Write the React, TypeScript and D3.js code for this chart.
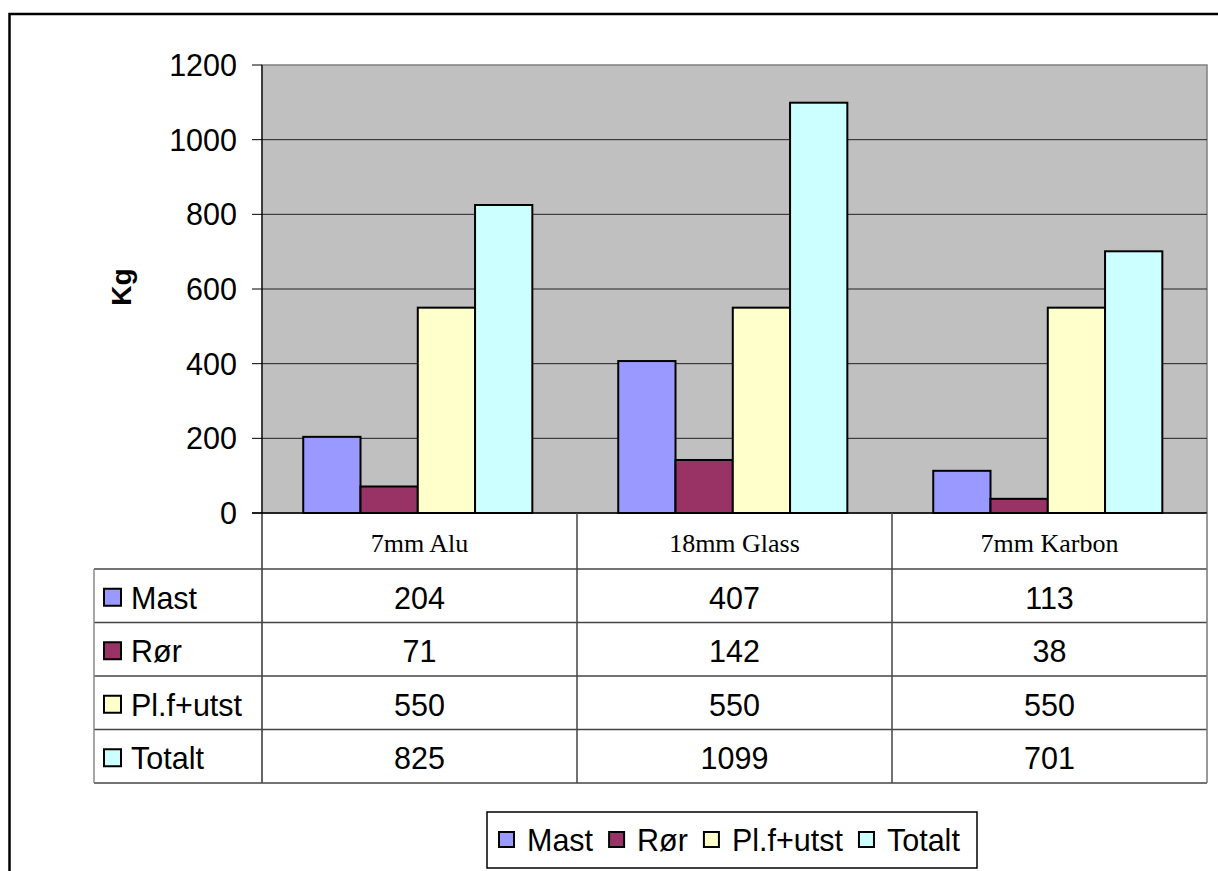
import React, { useEffect, useRef } from "react";
import * as d3 from "d3";

const categories = ["7mm Alu", "18mm Glass", "7mm Karbon"];
const seriesNames = ["Mast", "Rør", "Pl.f+utst", "Totalt"];
const mastValues = [204, 407, 113];
const rorValues = [71, 142, 38];
const plValues = [550, 550, 550];
const totaltValues = [825, 1099, 701];
const seriesColors = ["#9999FF", "#993366", "#FFFFCC", "#CCFFFF"];
const yTicks = [0, 200, 400, 600, 800, 1000, 1200];

const W = 1218;
const H = 871;

export default function App() {
  const ref = useRef<SVGSVGElement>(null);

  useEffect(() => {
    const svg = d3.select(ref.current);
    svg.selectAll("*").remove();
    const series = [mastValues, rorValues, plValues, totaltValues];
    const FONT = "Arial, 'Liberation Sans', sans-serif";
    const FS = 30.5;

    const left = 262, right = 1207, top = 65, bottom = 513;
    const y = d3.scaleLinear().domain([0, 1200]).range([bottom, top]);
    const x0 = d3.scaleBand<string>().domain(categories).range([left, right]).paddingInner(0).paddingOuter(0);
    // Excel gap 150%: total = 4 bars + 1.5 bars
    const bw = x0.bandwidth() / 5.5;
    const groupOffset = bw * 0.72;

    // outer border
    svg.append("rect").attr("x", 9.5).attr("y", 14).attr("width", W + 20).attr("height", H + 20)
      .attr("fill", "white").attr("stroke", "black").attr("stroke-width", 2.5);

    // plot area
    svg.append("rect").attr("x", left).attr("y", top).attr("width", right - left).attr("height", bottom - top)
      .attr("fill", "#C0C0C0").attr("stroke", "#808080").attr("stroke-width", 1.5);

    // gridlines
    svg.append("g").selectAll("line").data(yTicks.filter(t => t > 0 && t < 1200)).join("line")
      .attr("x1", left).attr("x2", right).attr("y1", d => y(d)).attr("y2", d => y(d))
      .attr("stroke", "#222").attr("stroke-width", 1);

    // bars
    categories.forEach((c, ci) => {
      seriesNames.forEach((s, si) => {
        const v = series[si][ci];
        const bx = (x0(c) as number) + groupOffset + si * bw;
        svg.append("rect").attr("x", bx).attr("y", y(v)).attr("width", bw).attr("height", y(0) - y(v))
          .attr("fill", seriesColors[si]).attr("stroke", "black").attr("stroke-width", 2);
      });
    });

    // y axis
    svg.append("line").attr("x1", left).attr("x2", left).attr("y1", top).attr("y2", 783).attr("stroke", "black").attr("stroke-width", 1.2);
    svg.append("line").attr("x1", 252).attr("x2", right).attr("y1", bottom).attr("y2", bottom).attr("stroke", "black").attr("stroke-width", 1.5);
    svg.append("g").selectAll("line").data(yTicks).join("line")
      .attr("x1", 252).attr("x2", left).attr("y1", d => y(d)).attr("y2", d => y(d)).attr("stroke", "black");
    svg.append("g").selectAll("text").data(yTicks).join("text")
      .attr("x", 237).attr("y", d => y(d)).attr("dy", "0.36em").attr("text-anchor", "end")
      .attr("font-family", FONT).attr("font-size", FS).text(d => String(d));

    // y title
    svg.append("text").attr("transform", "translate(131,287) rotate(-90)").attr("text-anchor", "middle")
      .attr("font-family", FONT).attr("font-weight", "bold").attr("font-size", 28).text("Kg");

    // table
    const tableLeft = 94;
    const rowTop = 569, rowBottom = 783;
    const rowH = (rowBottom - rowTop) / seriesNames.length;
    const lineColor = "#444";
    // category header
    svg.append("g").selectAll("text").data(categories).join("text")
      .attr("x", d => (x0(d) as number) + x0.bandwidth() / 2).attr("y", 552).attr("text-anchor", "middle")
      .attr("font-family", "'Times New Roman', 'Liberation Serif', serif").attr("font-size", 26).text(d => d);
    // horizontal lines
    for (let i = 0; i <= seriesNames.length; i++) {
      svg.append("line").attr("x1", tableLeft).attr("x2", right).attr("y1", rowTop + i * rowH).attr("y2", rowTop + i * rowH)
        .attr("stroke", lineColor).attr("stroke-width", 1.5);
    }
    svg.append("line").attr("x1", tableLeft).attr("x2", tableLeft).attr("y1", rowTop).attr("y2", rowBottom).attr("stroke", "#888").attr("stroke-width", 1.5);
    categories.forEach((c) => {
      const xe = (x0(c) as number) + x0.bandwidth();
      svg.append("line").attr("x1", xe).attr("x2", xe).attr("y1", bottom).attr("y2", rowBottom)
        .attr("stroke", xe >= right - 1 ? "#777" : lineColor).attr("stroke-width", 1.5);
    });
    seriesNames.forEach((s, si) => {
      const cy = rowTop + si * rowH + rowH / 2;
      svg.append("rect").attr("x", 104).attr("y", cy - 7).attr("width", 17).attr("height", 17)
        .attr("fill", seriesColors[si]).attr("stroke", "black").attr("stroke-width", 2);
      svg.append("text").attr("x", 131).attr("y", cy + 2).attr("dy", "0.36em")
        .attr("font-family", FONT).attr("font-size", FS).text(s);
      categories.forEach((c, ci) => {
        svg.append("text").attr("x", (x0(c) as number) + x0.bandwidth() / 2).attr("y", cy + 2).attr("dy", "0.36em")
          .attr("text-anchor", "middle").attr("font-family", FONT).attr("font-size", FS).text(String(series[si][ci]));
      });
    });

    // legend
    const lg = svg.append("g");
    lg.append("rect").attr("x", 487).attr("y", 812).attr("width", 490).attr("height", 56)
      .attr("fill", "white").attr("stroke", "black").attr("stroke-width", 1.5);
    let lx = 499;
    seriesNames.forEach((s, si) => {
      lg.append("rect").attr("x", lx).attr("y", 832).attr("width", 15).attr("height", 15)
        .attr("fill", seriesColors[si]).attr("stroke", "black").attr("stroke-width", 2);
      const t = lg.append("text").attr("x", lx + 28).attr("y", 840).attr("dy", "0.36em")
        .attr("font-family", FONT).attr("font-size", FS).text(s);
      const w = (t.node() as SVGTextElement).getComputedTextLength();
      lx = lx + 28 + w + 16;
    });
  }, []);

  return (
    <svg ref={ref} width={W} height={H} style={{ position: "absolute", left: 0, top: 0, display: "block" }} />
  );
}
